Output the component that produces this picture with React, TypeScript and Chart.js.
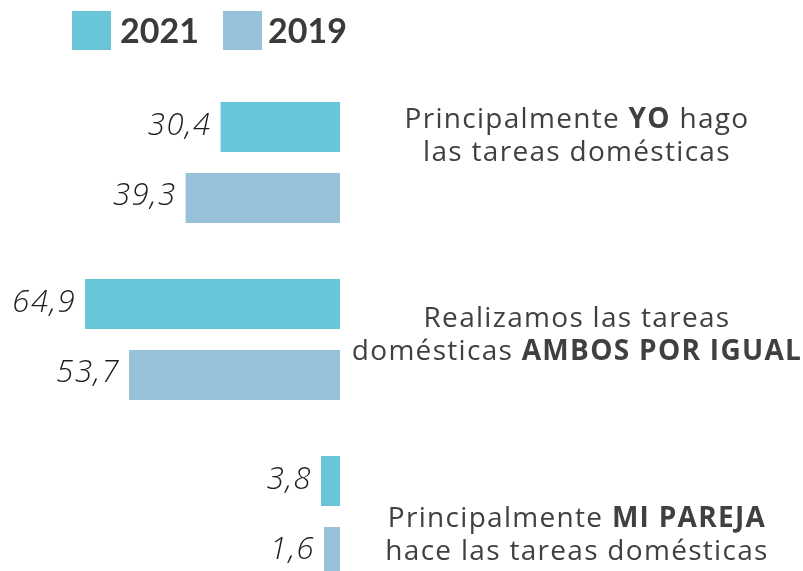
import React, { useEffect, useRef } from "react";
import Chart from "chart.js/auto";

const categories = [
  "Principalmente YO hago las tareas domésticas",
  "Realizamos las tareas domésticas AMBOS POR IGUAL",
  "Principalmente MI PAREJA hace las tareas domésticas",
];
const seriesNames = ["2021", "2019"];
const values2021 = [30.4, 64.9, 3.8];
const values2019 = [39.3, 53.7, 1.6];
const colors = ["#68C6D8", "#96C1D8"];

// Category label lines, each made of [text, bold] runs
const labelLines: [string, boolean][][][] = [
  [
    [["Principalmente ", false], ["YO", true], [" hago", false]],
    [["las tareas domésticas", false]],
  ],
  [
    [["Realizamos las tareas", false]],
    [["domésticas ", false], ["AMBOS POR IGUAL", true]],
  ],
  [
    [["Principalmente ", false], ["MI PAREJA", true]],
    [["hace las tareas domésticas", false]],
  ],
];
const labelOffsets = [-18.5, 3.5, 26.5];

const LATO = "Lato, 'Noto Sans', sans-serif";
const OPEN = "'Open Sans', 'Noto Sans', sans-serif";

const overlayPlugin = {
  id: "overlay",
  afterDatasetsDraw(chart: any) {
    const ctx = chart.ctx;
    ctx.save();
    // value labels
    ctx.font = `italic 300 31px ${OPEN}`;
    (ctx as any).letterSpacing = "1.5px";
    ctx.fillStyle = "#1e1e1e";
    ctx.textAlign = "right";
    ctx.textBaseline = "alphabetic";
    chart.data.datasets.forEach((ds: any, di: number) => {
      const meta = chart.getDatasetMeta(di);
      meta.data.forEach((el: any, i: number) => {
        const left = Math.min(el.x, el.base);
        const txt = Number(ds.data[i]).toFixed(1).replace(".", ",");
        ctx.fillText(txt, left - 9, el.y + 7.5);
      });
    });

    // category labels
    const yScale = chart.scales.y;
    const cx = 577;
    const lineH = 33;
    const regular = `400 28px ${OPEN}`;
    const bold = `700 28px ${OPEN}`;
    (ctx as any).letterSpacing = "1.3px";
    ctx.fillStyle = "#404040";
    ctx.textAlign = "left";
    labelLines.forEach((lines, ci) => {
      const center = yScale.getPixelForValue(ci) + labelOffsets[ci];
      lines.forEach((runs, li) => {
        const y = center + (li - (lines.length - 1) / 2) * lineH;
        let total = 0;
        runs.forEach(([t, b]) => {
          ctx.font = b ? bold : regular;
          total += ctx.measureText(t).width;
        });
        let x = cx - total / 2;
        runs.forEach(([t, b]) => {
          ctx.font = b ? bold : regular;
          ctx.fillText(t, x, y);
          x += ctx.measureText(t).width;
        });
      });
    });

    // legend
    (ctx as any).letterSpacing = "0px";
    ctx.textBaseline = "middle";
    const legendItems = [
      { box: 72, text: 120 },
      { box: 223, text: 268 },
    ];
    ctx.font = `700 34px ${LATO}`;
    chart.data.datasets.forEach((ds: any, di: number) => {
      const it = legendItems[di];
      ctx.fillStyle = ds.backgroundColor;
      ctx.fillRect(it.box, 11, 39, 39);
      ctx.fillStyle = "#3a3a3a";
      ctx.fillText(ds.label, it.text, 32);
    });
    ctx.restore();
  },
};

export default function App() {
  const ref = useRef<HTMLCanvasElement | null>(null);
  useEffect(() => {
    document.body.style.margin = "0";
    document.body.style.overflow = "hidden";
    const chart = new Chart(ref.current!, {
      type: "bar",
      data: {
        labels: categories,
        datasets: [
          {
            label: seriesNames[0],
            data: values2021,
            backgroundColor: colors[0],
            barPercentage: 0.704,
            categoryPercentage: 0.802,
            minBarLength: 19,
          },
          {
            label: seriesNames[1],
            data: values2019,
            backgroundColor: colors[1],
            barPercentage: 0.704,
            categoryPercentage: 0.802,
            minBarLength: 16,
          },
        ],
      },
      options: {
        indexAxis: "y",
        responsive: false,
        animation: false,
        layout: { padding: { left: 65, right: 463, top: 74, bottom: 15 } },
        scales: {
          x: { type: "linear", min: 0, max: 70, reverse: true, display: false },
          y: { type: "category", display: false, offset: true },
        },
        plugins: {
          legend: { display: false },
          tooltip: { enabled: false },
        },
      },
      plugins: [overlayPlugin],
    });
    return () => chart.destroy();
  }, []);
  return (
    <div style={{ width: 803, height: 620 }}>
      <canvas ref={ref} width={803} height={620} />
    </div>
  );
}
